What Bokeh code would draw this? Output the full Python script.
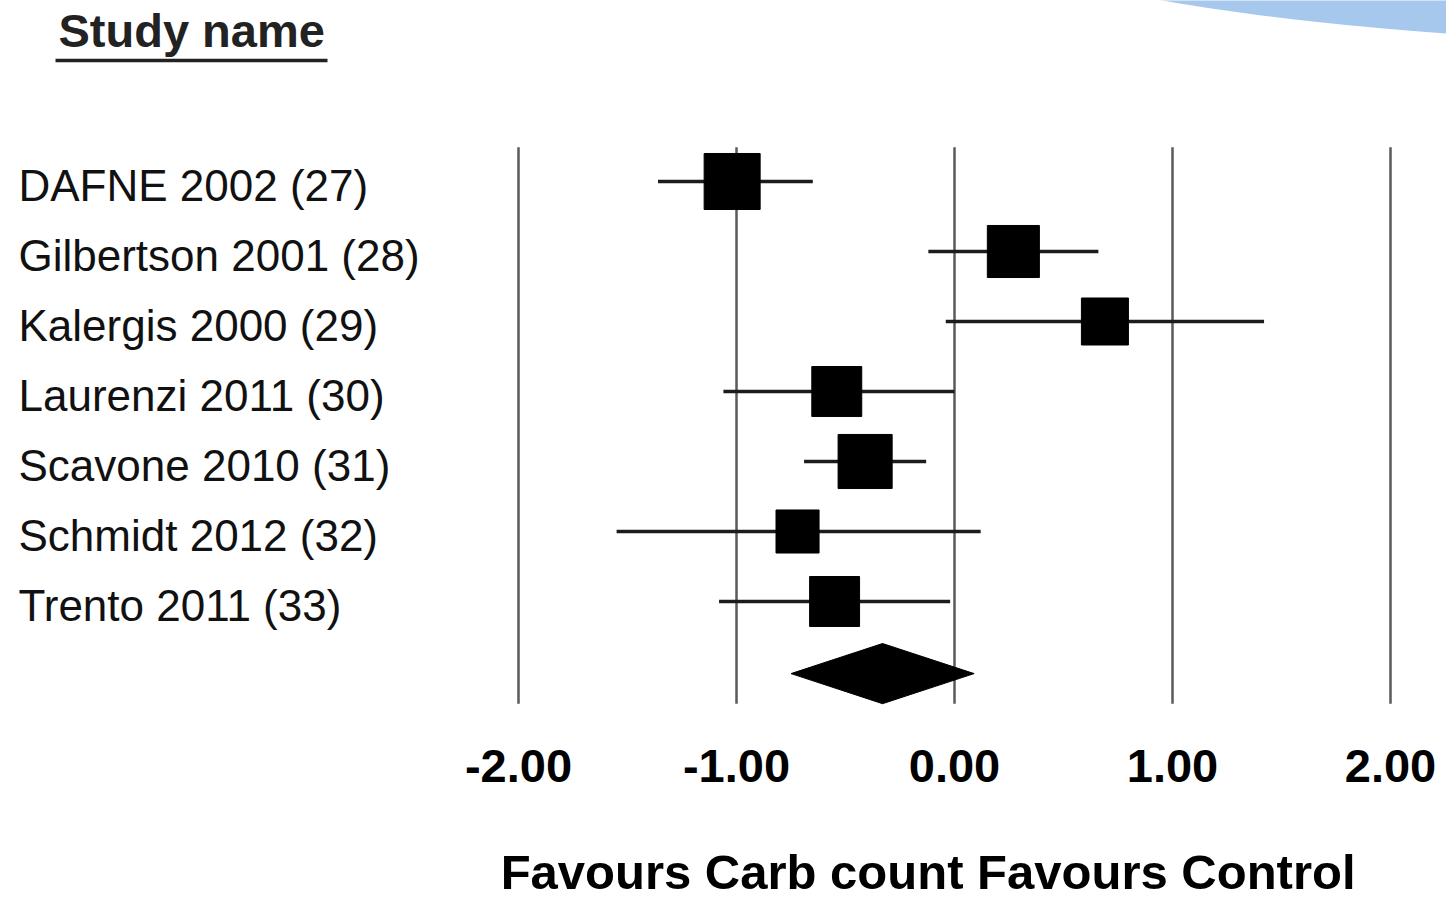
from bokeh.plotting import figure
from bokeh.models import Range1d, FixedTicker, PrintfTickFormatter, ColumnDataSource, LinearAxis
from bokeh.core.properties import value
from bokeh.embed import file_html
from bokeh.resources import INLINE

# ---------------- data ----------------
studies = ["DAFNE 2002 (27)", "Gilbertson 2001 (28)", "Kalergis 2000 (29)",
           "Laurenzi 2011 (30)", "Scavone 2010 (31)", "Schmidt 2012 (32)",
           "Trento 2011 (33)"]
estimate = [-1.02, 0.27, 0.69, -0.54, -0.41, -0.72, -0.55]
lower = [-1.36, -0.12, -0.04, -1.06, -0.69, -1.55, -1.08]
upper = [-0.65, 0.66, 1.42, 0.00, -0.13, 0.12, -0.02]
weight = [17.6, 15.2, 12.4, 14.0, 16.4, 10.4, 14.0]
pooled = [-0.33]
pooled_lower = [-0.75]
pooled_upper = [0.09]
ticks = [-2, -1, 0, 1, 2]
x_label = "Favours Carb count  Favours Control"
header = "Study name"

FONT = "Liberation Sans"

# ---------------- layout helpers ----------------
PX_X = 218.0   # pixels per unit on x
PX_Y = 70.0    # pixels per row
X0PX = 954.0   # pixel of x = 0
Y0PX = 181.0   # pixel of first row
W, H = 1446, 902
BOTTOM = 196
x0 = (0 - X0PX) / PX_X
x1 = (W - X0PX) / PX_X
ytop = (Y0PX - 0) / PX_Y
ybot = (Y0PX - (H - BOTTOM)) / PX_Y

rows = [-i for i in range(len(studies))]
sizes = [13.35 * w ** 0.5 for w in weight]
src = ColumnDataSource(dict(study=studies, est=estimate, lo=lower, hi=upper,
                            y=rows, size=sizes,
                            lx=[(18 - X0PX) / PX_X] * len(studies)))

p = figure(width=W, height=H, output_backend="svg", toolbar_location=None,
           x_range=Range1d(x0, x1), y_range=Range1d(ybot, ytop),
           y_axis_location=None, min_border_left=0, min_border_right=0,
           min_border_top=0, min_border_bottom=BOTTOM)
p.outline_line_color = None
p.xgrid.visible = False
p.ygrid.visible = False
p.background_fill_color = "white"
p.border_fill_color = "white"

# decorative blue arc (slide background)
p.ellipse(x=[(1800 - X0PX) / PX_X], y=[(Y0PX + 100) / PX_Y], width=1756, height=291,
          width_units="screen", height_units="screen",
          fill_color="#A6C8ED", line_color=None)

# vertical reference lines at the ticks
diamond_y = -7.03
p.segment(x0=ticks, x1=ticks, y0=[0.49] * len(ticks), y1=[diamond_y - 0.43] * len(ticks),
          line_color="#5a5a5a", line_width=2.5)

# confidence intervals
p.segment(x0="lo", x1="hi", y0="y", y1="y", source=src,
          line_color="#1c1c1c", line_width=3.5)

# study squares
p.scatter(x="est", y="y", size="size", marker="square", source=src,
          fill_color="black", line_color="black")

# pooled diamond
h = 0.43
p.patches(xs=[[pooled_lower[0], pooled[0], pooled_upper[0], pooled[0]]],
          ys=[[diamond_y, diamond_y + h, diamond_y, diamond_y - h]],
          fill_color="black", line_color="black")

# study labels
p.text(x="lx", y="y", text="study", source=src, text_font=value(FONT),
       text_font_size="44px", text_color="#111111", text_baseline="alphabetic",
       text_align="left", y_offset=4)

# header
hx = (58 - X0PX) / PX_X
hy = (Y0PX - 50) / PX_Y
p.text(x=[hx], y=[hy], text=[header], text_font=value(FONT), text_font_size="47px",
       text_font_style="bold", text_color="#222222", text_baseline="alphabetic",
       y_offset=-20)
p.segment(x0=[(55 - X0PX) / PX_X], x1=[(327 - X0PX) / PX_X],
          y0=[(Y0PX - 60) / PX_Y], y1=[(Y0PX - 60) / PX_Y],
          line_color="#222222", line_width=3.5)

# x axis (tick labels)
ax = p.xaxis[0]
ax.ticker = FixedTicker(ticks=ticks)
ax.formatter = PrintfTickFormatter(format="%.2f")
ax.axis_line_color = None
ax.major_tick_line_color = None
ax.minor_tick_line_color = None
ax.major_tick_in = 0
ax.major_tick_out = 0
ax.major_label_standoff = 43
ax.major_label_text_font = FONT
ax.major_label_text_font_size = "47px"
ax.major_label_text_font_style = "bold"
ax.major_label_text_color = "black"

# second axis carrying the direction label, centred where the reference has it
label_pos = -0.09
ax2 = LinearAxis(ticker=FixedTicker(ticks=[label_pos]),
                 major_label_overrides={label_pos: x_label})
ax2.axis_line_color = None
ax2.major_tick_line_color = None
ax2.minor_tick_line_color = None
ax2.major_tick_in = 0
ax2.major_tick_out = 0
ax2.major_label_standoff = 60
ax2.major_label_text_font = FONT
ax2.major_label_text_font_size = "49px"
ax2.major_label_text_font_style = "bold"
ax2.major_label_text_color = "black"
p.add_layout(ax2, "below")

open("out.html", "w").write(file_html(p, INLINE))
